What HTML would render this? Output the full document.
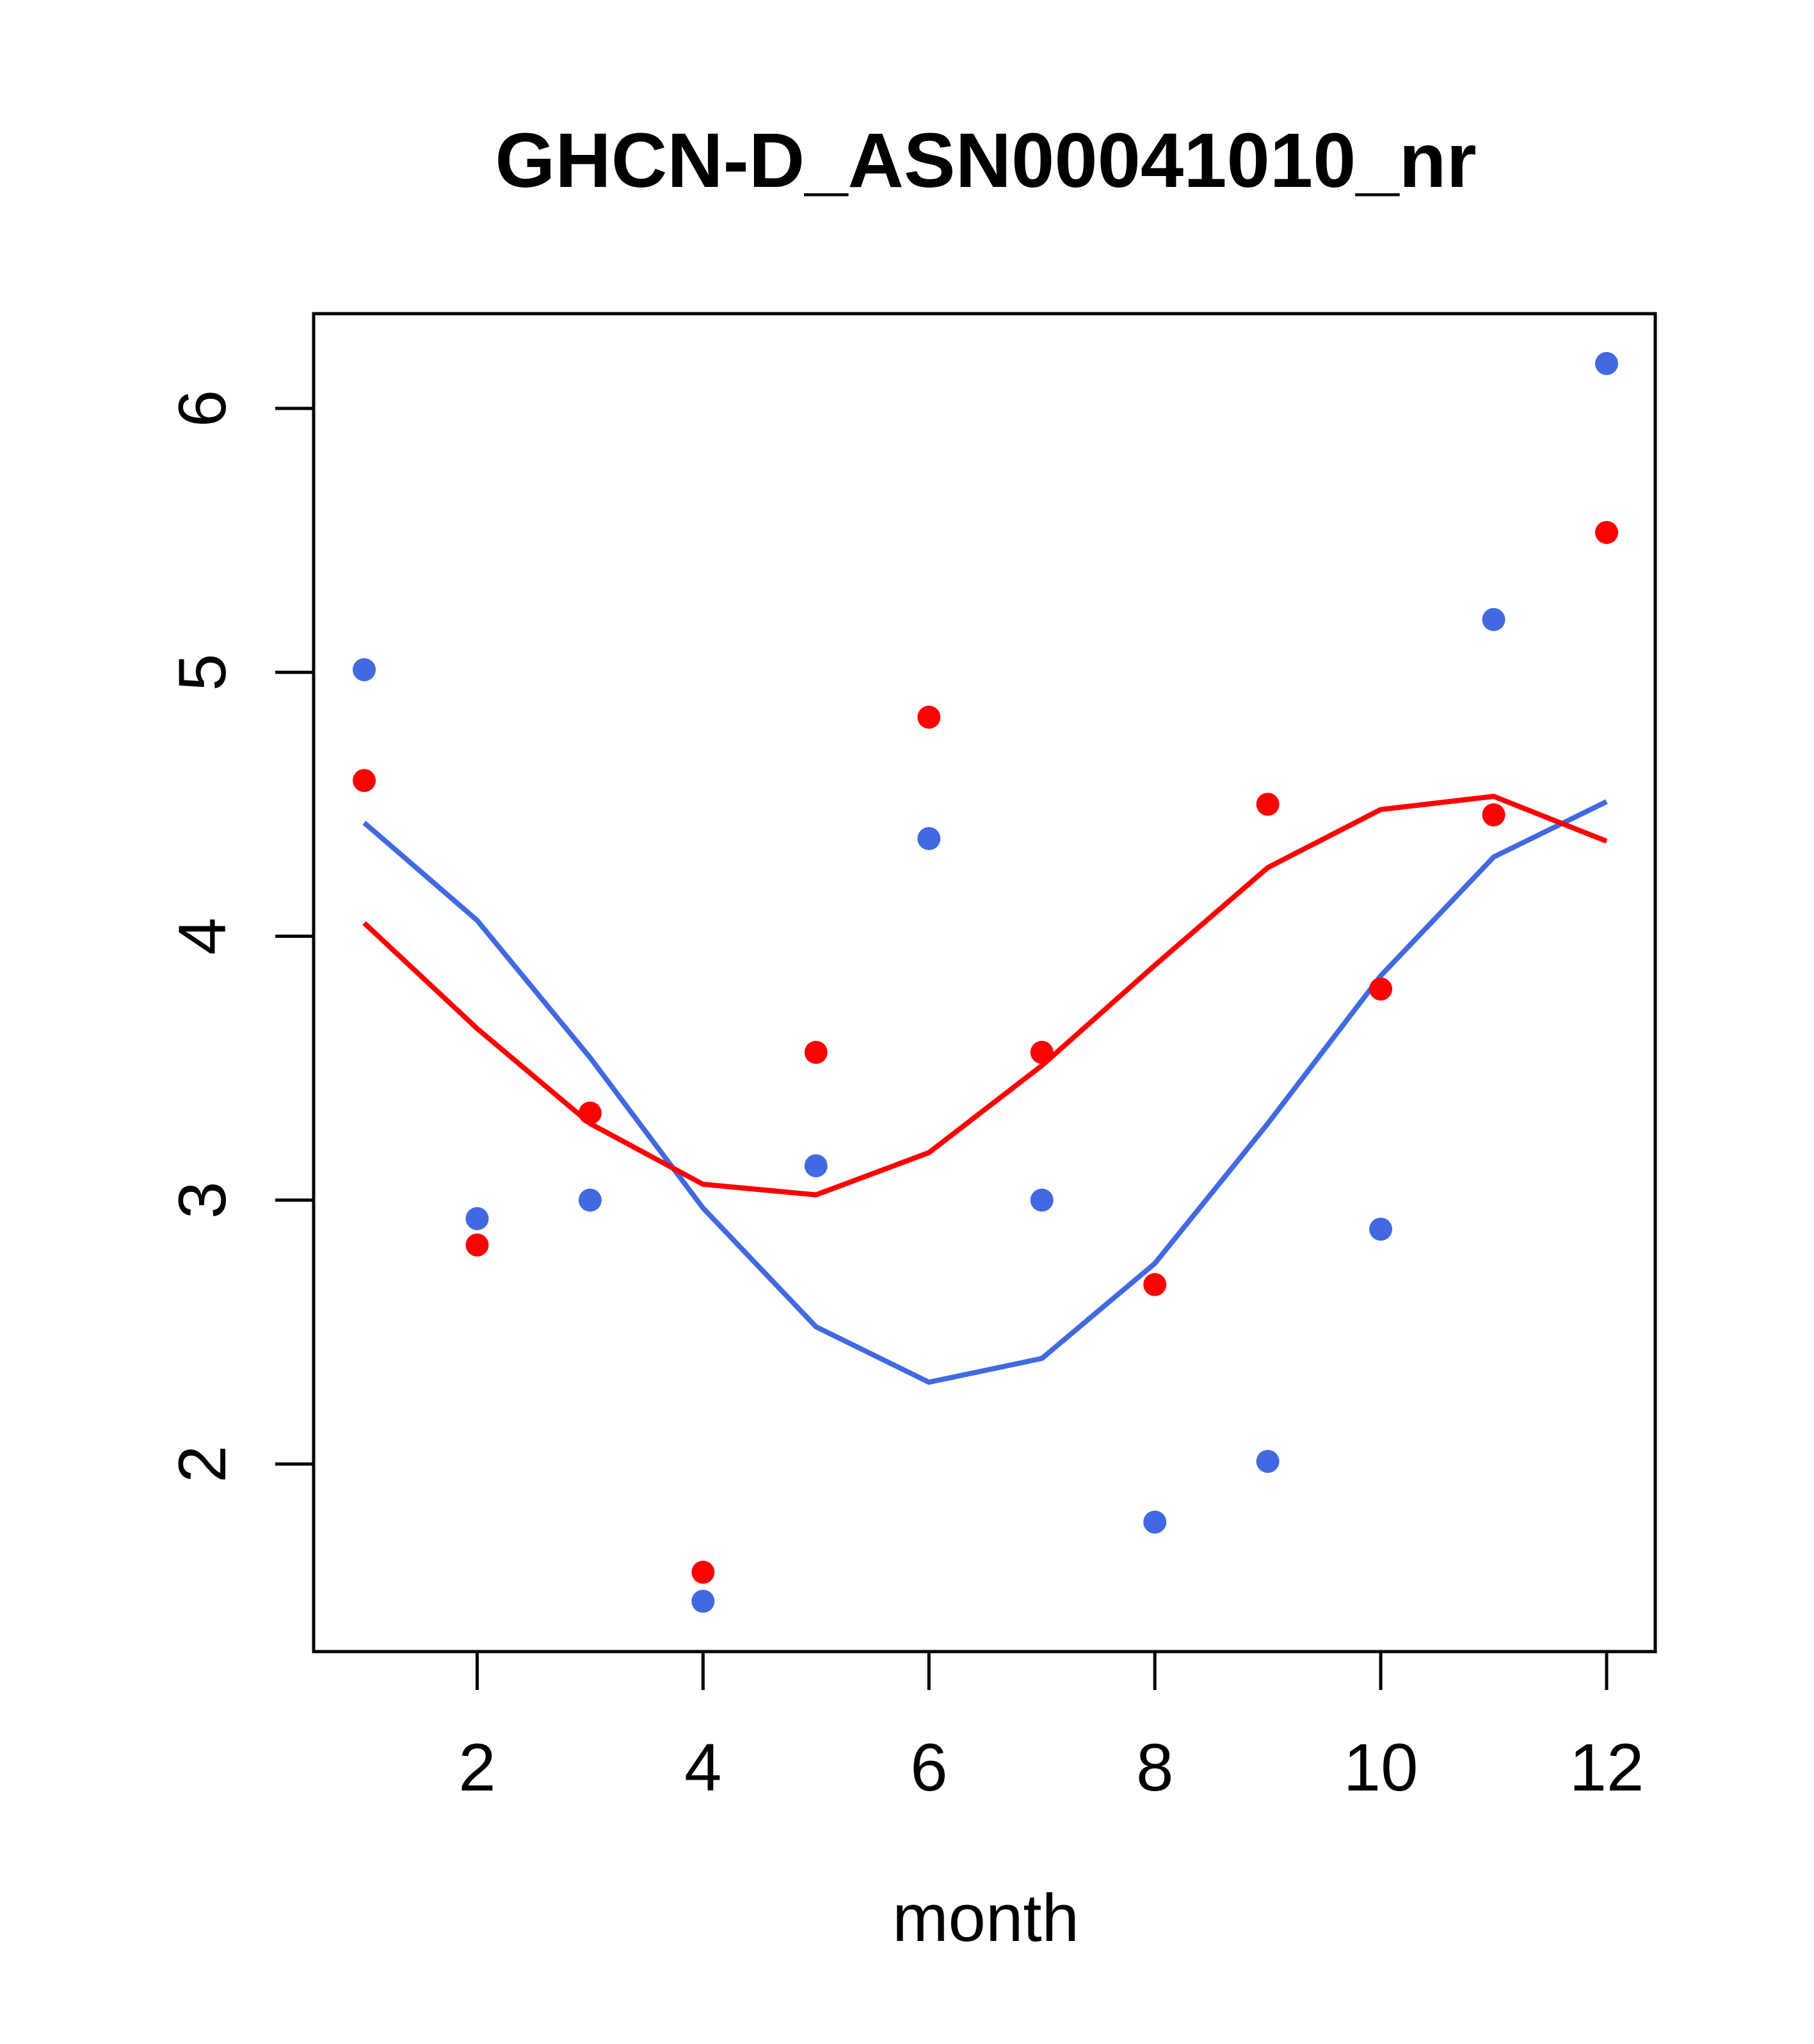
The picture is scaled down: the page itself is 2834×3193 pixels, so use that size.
<!DOCTYPE html>
<html><head><meta charset="utf-8"><style>html,body{margin:0;padding:0;background:#fff}</style></head>
<body>
<svg id="chart" width="2834" height="3188" xmlns="http://www.w3.org/2000/svg" font-family="Liberation Sans, sans-serif">
<rect width="2834" height="3188" fill="#fff"/>
<text x="1540" y="292" font-size="121" font-weight="bold" text-anchor="middle">GHCN-D_ASN00041010_nr</text>
<rect x="490" y="490" width="2096" height="2090" fill="none" stroke="#000" stroke-width="5"/>
<text x="1540" y="3032" font-size="105" text-anchor="middle">month</text>
<g id="axes"></g>
<g id="marks"></g>
</svg>
<script>
const months=[1,2,3,4,5,6,7,8,9,10,11,12];
const bluePoints=[5.01,2.93,3.00,1.48,3.13,4.37,3.00,1.78,2.01,2.89,5.20,6.17];
const redPoints=[4.59,2.83,3.33,1.59,3.56,4.83,3.56,2.68,4.50,3.80,4.46,5.53];
const blueLine=[4.43,4.06,3.54,2.97,2.52,2.31,2.40,2.76,3.29,3.85,4.30,4.51];
const redLine=[4.05,3.65,3.29,3.06,3.02,3.18,3.51,3.89,4.26,4.48,4.53,4.36];
const xTicks=[2,4,6,8,10,12];
const yTicks=[2,3,4,5,6];
const NS="http://www.w3.org/2000/svg";
function xs(m){return 569+(m-1)*(2510-569)/11;}
function ys(v){return 2287-(v-2)*(2287-638)/4;}
const axes=document.getElementById('axes'), marks=document.getElementById('marks');
function mk(tag,attrs,parent){const e=document.createElementNS(NS,tag);for(const k in attrs)e.setAttribute(k,attrs[k]);parent.appendChild(e);return e;}
xTicks.forEach(t=>{
  const l=mk('line',{x1:xs(t),x2:xs(t),y1:2580,y2:2640,stroke:'#000','stroke-width':5},axes);
  
  
  const tx=mk('text',{x:xs(t),y:2797,'font-size':105,'text-anchor':'middle'},axes);
  tx.textContent=t;
  
  
});
yTicks.forEach(t=>{
  const l=mk('line',{x1:430,x2:490,y1:ys(t),y2:ys(t),stroke:'#000','stroke-width':5},axes);
  
  
  const tx=mk('text',{x:0,y:0,'font-size':105,'text-anchor':'middle',transform:`translate(352,${ys(t)}) rotate(-90)`},axes);
  tx.textContent=t;
  
  
});
function line(vals,color,name){
  const p=mk('polyline',{points:months.map((m,i)=>xs(m)+','+ys(vals[i])).join(' '),fill:'none',stroke:color,'stroke-width':8},marks);
  
  
}
function pts(vals,color,name){
  months.forEach((m,i)=>{
    const c=mk('circle',{cx:xs(m),cy:ys(vals[i]),r:18,fill:color},marks);
    
    
  });
}
line(blueLine,'#4169E1','blue-line');
line(redLine,'#FF0000','red-line');
pts(bluePoints,'#4169E1','blue-point');
pts(redPoints,'#FF0000','red-point');
</script>
</body></html>
